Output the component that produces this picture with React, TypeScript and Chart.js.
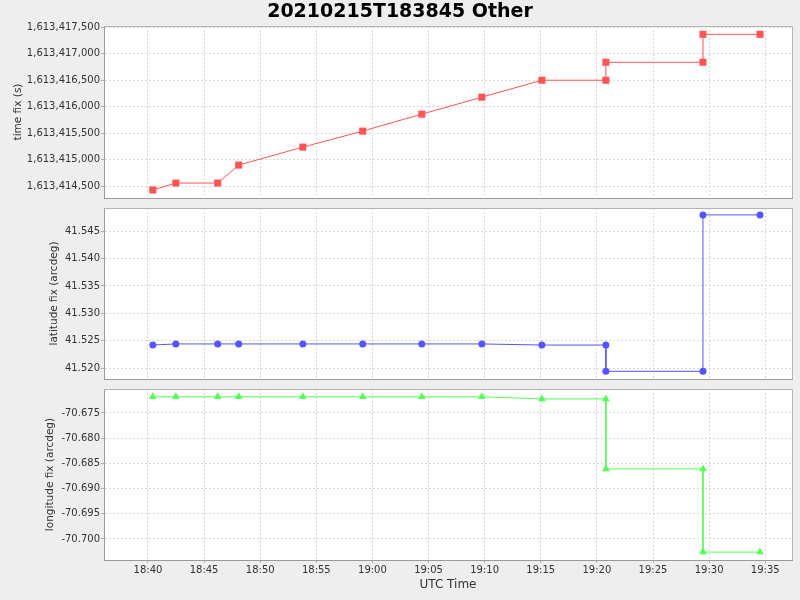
import React, { useEffect, useRef } from 'react';
import { Chart, registerables } from 'chart.js';

Chart.register(...registerables);
Chart.defaults.font.family = 'DejaVu Sans';

const CHART_TITLE = '20210215T183845 Other';
const X_AXIS_TITLE = 'UTC Time';
const TIME_FIX_TITLE = 'time fix (s)';
const LATITUDE_TITLE = 'latitude fix (arcdeg)';
const LONGITUDE_TITLE = 'longitude fix (arcdeg)';

// UTC record times (HH:MM:SS)
const utcTimes = [
  '18:40:26', '18:42:29', '18:46:13', '18:48:05', '18:53:48', '18:59:08', '19:04:24',
  '19:09:45', '19:15:06', '19:20:48', '19:20:48', '19:29:27', '19:29:27', '19:34:32',
];
const timeFixValues = [
  1613414425, 1613414556, 1613414556, 1613414895, 1613415234, 1613415536, 1613415856,
  1613416176, 1613416496, 1613416496, 1613416835, 1613416835, 1613417362, 1613417362,
];
const latitudeValues = [
  41.5242, 41.5244, 41.5244, 41.5244, 41.5244, 41.5244, 41.5244,
  41.5244, 41.5242, 41.5242, 41.5194, 41.5194, 41.548, 41.548,
];
const longitudeValues = [
  -70.6718, -70.6718, -70.6718, -70.6718, -70.6718, -70.6718, -70.6718,
  -70.6718, -70.6722, -70.6722, -70.6861, -70.6861, -70.7026, -70.7026,
];

const xTickLabels = ['18:40', '18:45', '18:50', '18:55', '19:00', '19:05', '19:10', '19:15', '19:20', '19:25', '19:30', '19:35'];
const xRange = ['18:36:05', '19:37:23'];
const timeFixTicks = [1613414500, 1613415000, 1613415500, 1613416000, 1613416500, 1613417000, 1613417500];
const timeFixRange = [1613414274, 1613417519];
const latitudeTicks = [41.52, 41.525, 41.53, 41.535, 41.54, 41.545];
const latitudeRange = [41.51799, 41.54926];
const longitudeTicks = [-70.7, -70.695, -70.69, -70.685, -70.68, -70.675];
const longitudeRange = [-70.70417, -70.67024];

const GRID = '#d8d8d8';
const AXIS = '#9a9a9a';
const OUTLINE = '#b4b4b4';
const TICK_MARK = '#b0b0b0';
const LABEL = '#333333';

function toSeconds(t: string): number {
  const parts = t.split(':').map(Number);
  return parts[0] * 3600 + parts[1] * 60 + (parts[2] || 0);
}

function formatHM(sec: number): string {
  const h = Math.floor(sec / 3600);
  const m = Math.round((sec - h * 3600) / 60);
  return `${String(h).padStart(2, '0')}:${String(m).padStart(2, '0')}`;
}

const plotFrame = {
  id: 'plotFrame',
  beforeDraw(chart: any) {
    const { ctx, chartArea: a } = chart;
    ctx.save();
    ctx.fillStyle = '#ffffff';
    ctx.fillRect(a.left, a.top, a.right - a.left, a.bottom - a.top);
    ctx.restore();
  },
  beforeDatasetsDraw(chart: any) {
    const { ctx, chartArea: a } = chart;
    ctx.save();
    ctx.strokeStyle = OUTLINE;
    ctx.lineWidth = 1;
    ctx.beginPath();
    ctx.moveTo(a.left, a.top + 0.5);
    ctx.lineTo(a.right + 0.5, a.top + 0.5);
    ctx.lineTo(a.right + 0.5, a.bottom);
    ctx.stroke();
    ctx.restore();
  },
};

type PanelSpec = {
  values: number[];
  color: string;
  pointStyle: string;
  pointRadius: number;
  yTitle: string;
  yTitlePad: number;
  yTicks: number[];
  yRange: number[];
  yFormat: (v: number) => string;
  showTitle: boolean;
  showXAxis: boolean;
  padTop: number;
  xHeight: number;
};

function buildConfig(spec: PanelSpec): any {
  const xTickValues = xTickLabels.map(toSeconds);
  return {
    type: 'line',
    data: {
      datasets: [
        {
          data: utcTimes.map((t, i) => ({ x: toSeconds(t), y: spec.values[i] })),
          borderColor: spec.color,
          backgroundColor: spec.color,
          borderWidth: 1,
          pointStyle: spec.pointStyle,
          pointRadius: spec.pointRadius,
          pointHoverRadius: spec.pointRadius,
          pointBorderWidth: 0,
          pointBackgroundColor: spec.color,
          tension: 0,
          fill: false,
        },
      ],
    },
    options: {
      responsive: false,
      animation: false,
      devicePixelRatio: 1,
      events: [],
      layout: { padding: { left: 8, right: 8, top: spec.padTop, bottom: 0 } },
      plugins: {
        legend: { display: false },
        tooltip: { enabled: false },
        title: spec.showTitle
          ? {
              display: true,
              text: CHART_TITLE,
              color: '#000000',
              font: { size: 19, weight: 'bold', family: 'DejaVu Sans' },
              padding: { top: 0.5, bottom: 2.7 },
            }
          : { display: false },
      },
      scales: {
        x: {
          type: 'linear',
          min: toSeconds(xRange[0]),
          max: toSeconds(xRange[1]),
          afterBuildTicks: (s: any) => {
            s.ticks = xTickValues.map((v) => ({ value: v }));
          },
          afterFit: (s: any) => {
            s.height = spec.xHeight;
            s.paddingLeft = 0;
            s.paddingRight = 0;
          },
          ticks: {
            display: spec.showXAxis,
            padding: 1,
            color: LABEL,
            font: { size: 10 },
            maxRotation: 0,
            autoSkip: false,
            callback: (v: any) => formatHM(Number(v)),
          },
          grid: {
            color: GRID,
            lineWidth: 1,
            drawTicks: spec.showXAxis,
            tickLength: 3,
            tickColor: TICK_MARK,
            tickBorderDash: [],
          },
          border: { display: true, color: AXIS, width: 1, dash: [2, 2] },
          title: spec.showXAxis
            ? {
                display: true,
                text: X_AXIS_TITLE,
                color: LABEL,
                font: { size: 12 },
                padding: { top: 0, bottom: 7.5 },
              }
            : { display: false },
        },
        y: {
          type: 'linear',
          min: spec.yRange[0],
          max: spec.yRange[1],
          afterBuildTicks: (s: any) => {
            s.ticks = spec.yTicks.map((v) => ({ value: v }));
          },
          afterFit: (s: any) => {
            s.width = 96;
            s.paddingTop = 0;
            s.paddingBottom = 0;
          },
          ticks: {
            padding: 1,
            color: LABEL,
            font: { size: 10 },
            autoSkip: false,
            callback: (v: any) => spec.yFormat(Number(v)),
          },
          grid: {
            color: GRID,
            lineWidth: 1,
            drawTicks: true,
            tickLength: 3,
            tickColor: TICK_MARK,
            tickBorderDash: [],
          },
          border: { display: true, color: AXIS, width: 1, dash: [2, 2] },
          title: {
            display: true,
            text: spec.yTitle,
            color: LABEL,
            font: { size: 10.5 },
            padding: { top: spec.yTitlePad, bottom: 0 },
          },
        },
      },
    },
    plugins: [plotFrame],
  };
}

const panels: { spec: PanelSpec; top: number; height: number }[] = [
  {
    top: 0,
    height: 206,
    spec: {
      values: timeFixValues,
      color: '#ff5555',
      pointStyle: 'rect',
      pointRadius: 5,
      yTitle: TIME_FIX_TITLE,
      yTitlePad: 4,
      yTicks: timeFixTicks,
      yRange: timeFixRange,
      yFormat: (v) => v.toLocaleString('en-US'),
      showTitle: true,
      showXAxis: false,
      padTop: 0,
      xHeight: 8,
    },
  },
  {
    top: 200,
    height: 187,
    spec: {
      values: latitudeValues,
      color: '#5555ff',
      pointStyle: 'circle',
      pointRadius: 3.5,
      yTitle: LATITUDE_TITLE,
      yTitlePad: 40,
      yTicks: latitudeTicks,
      yRange: latitudeRange,
      yFormat: (v) => v.toFixed(3),
      showTitle: false,
      showXAxis: false,
      padTop: 8,
      xHeight: 8,
    },
  },
  {
    top: 381,
    height: 219,
    spec: {
      values: longitudeValues,
      color: '#55ff55',
      pointStyle: 'triangle',
      pointRadius: 4.5,
      yTitle: LONGITUDE_TITLE,
      yTitlePad: 36,
      yTicks: longitudeTicks,
      yRange: longitudeRange,
      yFormat: (v) => v.toFixed(3),
      showTitle: false,
      showXAxis: true,
      padTop: 8,
      xHeight: 40,
    },
  },
];

function Panel({ spec, top, height }: { spec: PanelSpec; top: number; height: number }) {
  const ref = useRef<HTMLCanvasElement>(null);
  useEffect(() => {
    if (!ref.current) return;
    const chart = new Chart(ref.current, buildConfig(spec));
    return () => chart.destroy();
  }, []);
  return (
    <canvas
      ref={ref}
      width={800}
      height={height}
      style={{ position: 'absolute', left: 0, top, width: 800, height, display: 'block' }}
    />
  );
}

export default function App() {
  return (
    <div
      style={{
        position: 'absolute',
        left: 0,
        top: 0,
        width: 800,
        height: 600,
        background: '#eeeeee',
        overflow: 'hidden',
      }}
    >
      {panels.map((p, i) => (
        <Panel key={i} spec={p.spec} top={p.top} height={p.height} />
      ))}
    </div>
  );
}
